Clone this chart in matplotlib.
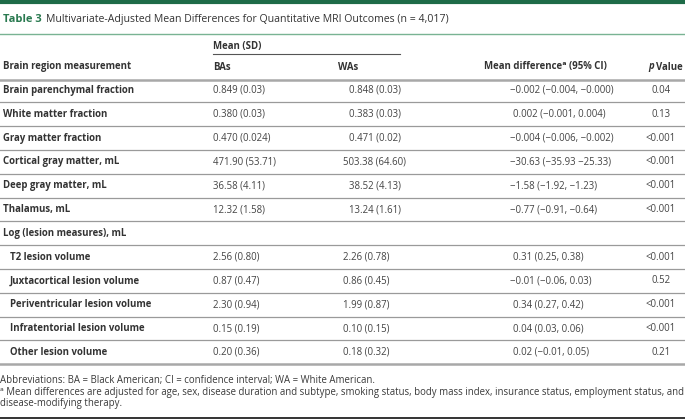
import matplotlib
matplotlib.use("Agg")
import matplotlib.pyplot as plt

plt.rcParams['font.family'] = ['Open Sans', 'DejaVu Sans']

# ---- data ----
row_labels = [
    "Brain parenchymal fraction", "White matter fraction", "Gray matter fraction",
    "Cortical gray matter, mL", "Deep gray matter, mL", "Thalamus, mL",
    "Log (lesion measures), mL", "T2 lesion volume", "Juxtacortical lesion volume",
    "Periventricular lesion volume", "Infratentorial lesion volume", "Other lesion volume",
]
row_indent = [0, 0, 0, 0, 0, 0, 0, 1, 1, 1, 1, 1]
ba_values = ["0.849 (0.03)", "0.380 (0.03)", "0.470 (0.024)", "471.90 (53.71)",
             "36.58 (4.11)", "12.32 (1.58)", "", "2.56 (0.80)", "0.87 (0.47)",
             "2.30 (0.94)", "0.15 (0.19)", "0.20 (0.36)"]
wa_values = ["0.848 (0.03)", "0.383 (0.03)", "0.471 (0.02)", "503.38 (64.60)",
             "38.52 (4.13)", "13.24 (1.61)", "", "2.26 (0.78)", "0.86 (0.45)",
             "1.99 (0.87)", "0.10 (0.15)", "0.18 (0.32)"]
mean_diffs = ["\u22120.002 (\u22120.004, \u22120.000)", "0.002 (\u22120.001, 0.004)",
              "\u22120.004 (\u22120.006, \u22120.002)", "\u221230.63 (\u221235.93 \u221225.33)",
              "\u22121.58 (\u22121.92, \u22121.23)", "\u22120.77 (\u22120.91, \u22120.64)", "",
              "0.31 (0.25, 0.38)", "\u22120.01 (\u22120.06, 0.03)", "0.34 (0.27, 0.42)",
              "0.04 (0.03, 0.06)", "0.02 (\u22120.01, 0.05)"]
p_values = ["0.04", "0.13", "<0.001", "<0.001", "<0.001", "<0.001", "",
            "<0.001", "0.52", "<0.001", "<0.001", "0.21"]
col_headers = ["Brain region measurement", "BAs", "WAs", "Mean difference\u1d43 (95% CI)", "Value"]
group_header = "Mean (SD)"
title_tag = "Table 3"
title_text = "Multivariate-Adjusted Mean Differences for Quantitative MRI Outcomes (n = 4,017)"
footnotes = [
    "Abbreviations: BA = Black American; CI = confidence interval; WA = White American.",
    "\u1d43 Mean differences are adjusted for age, sex, disease duration and subtype, smoking status, body mass index, insurance status, employment status, and",
    "disease-modifying therapy.",
]

# ---- layout ----
W, H = 685, 419
fig = plt.figure(figsize=(W / 100, H / 100), dpi=100)
ax = fig.add_axes([0, 0, 1, 1])
ax.set_xlim(0, W)
ax.set_ylim(H, 0)
ax.axis("off")

GREEN = "#1e6b48"
TXT = "#333333"
LINE = "#9a9a9a"
BODY = 6.9
fig.canvas.draw()
renderer = fig.canvas.get_renderer()
inv = ax.transData.inverted()

def extent_px(t):
    bb = t.get_window_extent(renderer=renderer)
    x0 = inv.transform((bb.x0, bb.y0))[0]
    x1 = inv.transform((bb.x1, bb.y0))[0]
    return x0, x1

def fit(t, target_width):
    x0, x1 = extent_px(t)
    t.set_fontsize(t.get_fontsize() * target_width / (x1 - x0))

# top bar
ax.axhline(1.8, color=GREEN, lw=3.0)
# title
t = ax.text(3, 19.5, title_tag, color="#2a7a50", fontsize=8.0, fontweight="bold", va="center")
tx = extent_px(t)[1] + 4
tt = ax.text(tx, 19.5, title_text, color=TXT, fontsize=8.0, va="center")
fit(tt, 452 - tx)
ax.plot([0, W], [34, 34], color="#79b393", lw=1.0)

# headers
ax.text(213, 47, group_header, color=TXT, fontsize=BODY, fontweight="bold", va="center")
ax.plot([213, 400], [54.5, 54.5], color="#555555", lw=0.8)
hy = 67
ax.text(3, hy, col_headers[0], color=TXT, fontsize=BODY, fontweight="bold", va="center")
ax.text(213, hy, col_headers[1], color=TXT, fontsize=BODY, fontweight="bold", va="center")
ax.text(338, hy, col_headers[2], color=TXT, fontsize=BODY, fontweight="bold", va="center")
ax.text(545, hy, col_headers[3], color=TXT, fontsize=BODY, fontweight="bold", va="center", ha="center")
tv = ax.text(683, hy, col_headers[4], color=TXT, fontsize=BODY, fontweight="bold", va="center", ha="right")
ax.text(extent_px(tv)[0] - 2.5, hy, "p", color=TXT, fontsize=BODY, fontweight="bold", style="italic",
        va="center", ha="right")
ax.plot([0, W], [80, 80], color="#a8a8a8", lw=1.8)

# rows
y0, pitch = 90.5, 23.8
for i, lab in enumerate(row_labels):
    y = y0 + i * pitch
    ax.text(3 + 7 * row_indent[i], y, lab, color=TXT, fontsize=BODY, fontweight="bold", va="center")
    ax.text(213, y, ba_values[i], color="#444444", fontsize=BODY, va="center")
    if row_indent[i]:
        ax.text(343, y, wa_values[i], color="#444444", fontsize=BODY, va="center")
    else:
        ax.text(375, y, wa_values[i], color="#444444", fontsize=BODY, va="center", ha="center")
    off = 0 if mean_diffs[i].startswith("\u2212") else 3
    ax.text(510 + off, y, mean_diffs[i], color="#444444", fontsize=BODY, va="center")
    ax.text(661, y, p_values[i], color="#444444", fontsize=BODY, va="center", ha="center")
    sep = y + pitch / 2
    if i < len(row_labels) - 1:
        ax.plot([0, W], [sep, sep], color=LINE, lw=0.9)
    else:
        ax.plot([0, W], [sep, sep], color="#a8a8a8", lw=1.8)

# footnotes
fts = []
for fy, txt in zip([380, 392, 403], footnotes):
    fts.append(ax.text(0, fy, txt, color="#3a3a3a", fontsize=7.0, va="center"))
fit(fts[1], 683)
for f in fts:
    f.set_fontsize(fts[1].get_fontsize())
ax.plot([0, W], [417.5, 417.5], color="#111111", lw=1.2)

fig.savefig("out.png", dpi=100)
